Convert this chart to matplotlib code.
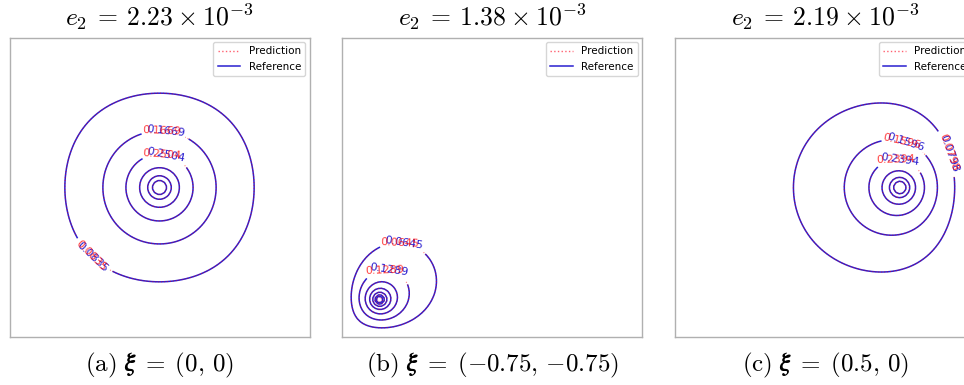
import numpy as np
import matplotlib
matplotlib.use('Agg')
import matplotlib.pyplot as plt
from matplotlib.lines import Line2D

plt.rcParams['mathtext.fontset'] = 'cm'

# source locations xi for the three cases
sources = [(0.0, 0.0), (-0.75, -0.75), (0.5, 0.0)]
errors = ['2.23', '1.38', '2.19']
captions = [r'$\mathrm{(a)}\ \boldsymbol{\xi}\;=\;(0,\,0)$',
            r'$\mathrm{(b)}\ \boldsymbol{\xi}\;=\;({-0.75},\,{-0.75})$',
            r'$\mathrm{(c)}\ \boldsymbol{\xi}\;=\;(0.5,\,0)$']

# contour levels of G(x; xi)
levels_a = [0.0835, 0.1669, 0.2504, 0.3338, 0.4173, 0.5007]
levels_b = [0.0645, 0.1289, 0.1934, 0.2578, 0.3223, 0.3867, 0.4512]
levels_c = [0.0798, 0.1596, 0.2394, 0.3192, 0.3990, 0.4788]
all_levels = [levels_a, levels_b, levels_c]

# where the contour labels sit
label_spots = [[(-0.43, -0.45), (0.04, 0.365), (0.04, 0.197)],
               [(-0.59, -0.385), (-0.69, -0.572)],
               [(0.80, 0.22), (0.53, 0.284), (0.50, 0.164)]]


def green(X, Y, xs, ys, nterms=600):
    # Dirichlet Green's function of -Laplace on [-1,1]^2, sine series in x
    a = b = 2.0
    xp, yp, xsp, ysp = X + 1, Y + 1, xs + 1, ys + 1
    d = np.abs(yp - ysp)
    s = yp + ysp
    G = np.zeros_like(X)
    for n in range(1, nterms + 1):
        k = n * np.pi / a
        e = (np.exp(-k * d) - np.exp(k * (s - 2 * b)) - np.exp(-k * s)
             + np.exp(-k * (2 * b - d)))
        G += (2 / a) * np.sin(k * xp) * np.sin(k * xsp) * e / (2 * k * (1 - np.exp(-2 * k * b)))
    return G


x = np.linspace(-1, 1, 100)
X, Y = np.meshgrid(x, x)
xq = np.linspace(-1, 1, 97)
Xq, Yq = np.meshgrid(xq, xq)

fig = plt.figure(figsize=(9.64, 3.85), dpi=100)
lefts = [9.5, 342, 675]
for i, (xs, ys) in enumerate(sources):
    ax = fig.add_axes([lefts[i] / 964, 48 / 385, 300 / 964, 299 / 385])
    ref = green(X, Y, xs, ys)
    pred = green(Xq, Yq, xs, ys, nterms=300)
    lv = all_levels[i]
    cr = ax.contour(X, Y, ref, levels=lv, colors='#2a1fd0', linewidths=1.1)
    cp = ax.contour(Xq, Yq, pred, levels=lv, colors='r', linestyles=':', linewidths=0.8, alpha=0.5)
    spots = label_spots[i]
    ax.clabel(cr, fontsize=8, fmt='%.4f', manual=spots)
    txt = ax.clabel(cp, fontsize=8, fmt='%.4f', manual=[(px - 0.025, py) for px, py in spots])
    for t in txt:
        t.set_alpha(0.75)
    ax.set_xlim(-1, 1)
    ax.set_ylim(-1, 1)
    ax.set_xticks([])
    ax.set_yticks([])
    for sp in ax.spines.values():
        sp.set_color('#b0b0b0')
        sp.set_linewidth(1.0)
    handles = [Line2D([], [], color='#ff6070', ls=':', lw=1.0),
               Line2D([], [], color='#2a1fd0', lw=1.1)]
    ax.legend(handles, ['Prediction', 'Reference'], loc='upper right', fontsize=7.5,
              handlelength=2.2, borderaxespad=0.4)
    fig.text((lefts[i] + 150) / 964, 1 - 17 / 385,
             r'$e_2\:=\:%s\:\times\:10^{-3}$' % errors[i], ha='center', va='center', fontsize=18.5)
    fig.text((lefts[i] + 150) / 964, 1 - 365 / 385, captions[i],
             ha='center', va='center', fontsize=18)

fig.savefig('out.png', dpi=100)
